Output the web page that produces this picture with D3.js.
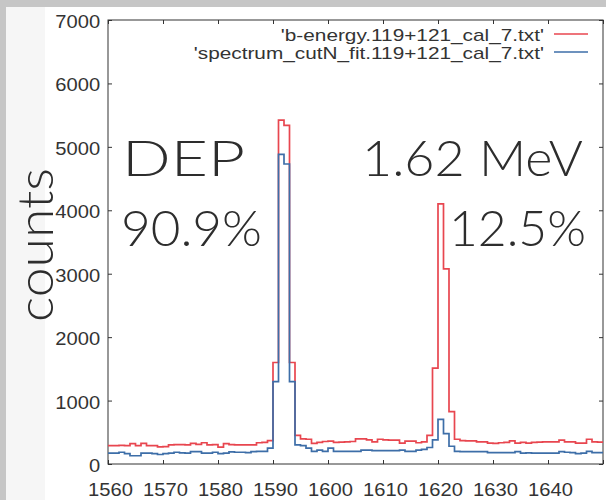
<!DOCTYPE html>
<html>
<head>
<meta charset="utf-8">
<script src="https://cdn.jsdelivr.net/npm/d3@7"></script>
<style>
  html, body { margin: 0; padding: 0; background: #c6c6c6; }
  svg { display: block; }
</style>
</head>
<body>
<svg id="chart" width="606" height="500"></svg>
<script>
// ---------- data ----------
const binEdges = [
  1560,1561,1562,1563,1564,1565,1566,1567,1568,1569,
  1570,1571,1572,1573,1574,1575,1576,1577,1578,1579,
  1580,1581,1582,1583,1584,1585,1586,1587,1588,1589,
  1590,1591,1592,1593,1594,1595,1596,1597,1598,1599,
  1600,1601,1602,1603,1604,1605,1606,1607,1608,1609,
  1610,1611,1612,1613,1614,1615,1616,1617,1618,1619,
  1620,1621,1622,1623,1624,1625,1626,1627,1628,1629,
  1630,1631,1632,1633,1634,1635,1636,1637,1638,1639,
  1640,1641,1642,1643,1644,1645,1646,1647,1648,1649,
  1650
];
const redCounts = [
  290, 290, 295, 290, 320, 290, 325, 290, 290, 270,
  275, 300, 305, 305, 300, 325, 310, 335, 300, 305,
  265, 320, 305, 300, 300, 300, 300, 335, 340, 370,
  1600, 5420, 5340, 1600, 450, 395, 390, 325, 340, 355,
  360, 340, 345, 350, 355, 395, 395, 380, 350, 390,
  380, 375, 375, 330, 360, 360, 335, 350, 450, 1510,
  4100, 3075, 825, 390, 370, 365, 365, 350, 350, 330,
  325, 335, 340, 365, 330, 340, 330, 340, 345, 350,
  350, 350, 375, 350, 350, 330, 330, 390, 350, 345
];
const blueCounts = [
  170, 170, 185, 165, 130, 130, 170, 170, 165, 150,
  165, 170, 185, 175, 170, 195, 195, 170, 170, 185,
  165, 170, 190, 185, 185, 180, 195, 200, 200, 250,
  1300, 4880, 4730, 1300, 300, 290, 250, 200, 220, 200,
  250, 200, 200, 200, 200, 200, 220, 220, 210, 210,
  210, 210, 210, 220, 200, 200, 220, 230, 260, 380,
  705, 480, 280, 200, 195, 195, 195, 195, 195, 180,
  180, 180, 180, 180, 195, 170, 175, 170, 170, 170,
  170, 170, 195, 185, 180, 165, 170, 200, 180, 180
];
const xTicks = [1560, 1570, 1580, 1590, 1600, 1610, 1620, 1630, 1640, 1650];
const xTickLabels = ["1560", "1570", "1580", "1590", "1600", "1610", "1620", "1630", "1640", ""];
const yTicks = [0, 1000, 2000, 3000, 4000, 5000, 6000, 7000];
const seriesNames = ["'b-energy.119+121_cal_7.txt'", "'spectrum_cutN_fit.119+121_cal_7.txt'"];
const seriesColors = ["#e8464f", "#3d6ea8"];
const yLabel = "counts";
const annotations = [
  { text: "DEP", col: "left", row: 0 },
  { text: "90.9%", col: "left", row: 1 },
  { text: "1.62 MeV", col: "right", row: 0 },
  { text: "12.5%", col: "right", row: 1 }
];

// ---------- layout ----------
const W = 606, H = 500;
const plot = { left: 108, right: 603, top: 20, bottom: 464 };
const svg = d3.select("#chart");

// background panels
svg.append("rect").attr("x", 0).attr("y", 0).attr("width", W).attr("height", H).attr("fill", "#c6c6c6");
svg.append("rect").attr("x", 6).attr("y", 7).attr("width", W - 6).attr("height", H - 7).attr("fill", "#ffffff");
svg.append("rect").attr("x", 6).attr("y", 7).attr("width", 39).attr("height", H - 7).attr("fill", "#f6f6f6");

const x = d3.scaleLinear().domain([1560, 1650]).range([plot.left, plot.right]);
const y = d3.scaleLinear().domain([0, 7000]).range([plot.bottom, plot.top]);

const tickFont = "'Liberation Sans', Arial, Helvetica, sans-serif";
const textColor = "#333333";

// axes (gnuplot style: inward ticks, mirrored)
const xb = d3.axisBottom(x).tickValues(xTicks).tickFormat((d, i) => xTickLabels[i])
  .tickSizeInner(-4).tickSizeOuter(0).tickPadding(19);
const xt = d3.axisTop(x).tickValues(xTicks).tickFormat("")
  .tickSizeInner(-4).tickSizeOuter(0);
const yl = d3.axisLeft(y).tickValues(yTicks).tickFormat(d3.format("d"))
  .tickSizeInner(-4).tickSizeOuter(0).tickPadding(7);
const yr = d3.axisRight(y).tickValues(yTicks).tickFormat("")
  .tickSizeInner(-4).tickSizeOuter(0);

function styleAxis(g) {
  g.select(".domain").remove();
  g.selectAll(".tick line").attr("stroke", "#333").attr("stroke-width", 1);
  g.selectAll(".tick text")
    .attr("fill", textColor)
    .style("font-family", tickFont)
    .style("font-size", "18px");
}

const gxb = svg.append("g").attr("transform", `translate(0,${plot.bottom})`).call(xb).call(styleAxis);
gxb.selectAll(".tick text").attr("transform", "translate(2,0) scale(1.12,1)");
svg.append("g").attr("transform", `translate(0,${plot.top})`).call(xt).call(styleAxis);
const gyl = svg.append("g").attr("transform", `translate(${plot.left},0)`).call(yl).call(styleAxis);
gyl.selectAll(".tick text").attr("dy", "0.42em").attr("transform", "scale(1.12,1)");
svg.append("g").attr("transform", `translate(${plot.right},0)`).call(yr).call(styleAxis);

// frame
svg.append("rect")
  .attr("x", plot.left).attr("y", plot.top)
  .attr("width", plot.right - plot.left).attr("height", plot.bottom - plot.top)
  .attr("fill", "none").attr("stroke", "#333").attr("stroke-width", 1);

// clip
svg.append("clipPath").attr("id", "clip").append("rect")
  .attr("x", plot.left).attr("y", plot.top)
  .attr("width", plot.right - plot.left).attr("height", plot.bottom - plot.top);

// histogram step lines
function stepPoints(counts) {
  const pts = counts.map((c, i) => [binEdges[i], c]);
  pts.push([binEdges[counts.length], counts[counts.length - 1]]);
  return pts;
}
const line = d3.line().x(d => x(d[0])).y(d => y(d[1])).curve(d3.curveStepAfter);
const lines = svg.append("g").attr("clip-path", "url(#clip)");
[redCounts, blueCounts].forEach((counts, i) => {
  lines.append("path")
    .attr("d", line(stepPoints(counts)))
    .attr("fill", "none")
    .attr("stroke", seriesColors[i])
    .attr("stroke-width", 1.7)
    .attr("stroke-linejoin", "miter");
});

// legend
const legendRows = [35, 53];
seriesNames.forEach((name, i) => {
  const g = svg.append("g").attr("transform", `translate(544,${legendRows[i] + 5.8}) scale(1.3,1)`);
  g.append("text")
    .attr("text-anchor", "end")
    .attr("fill", textColor)
    .style("font-family", tickFont)
    .style("font-size", "16px")
    .text(name);
  svg.append("line")
    .attr("x1", 554).attr("x2", 588)
    .attr("y1", legendRows[i] - 1).attr("y2", legendRows[i] - 1)
    .attr("stroke", seriesColors[i]).attr("stroke-width", 1.7);
});

// big annotations
const bigFont = "Lato, 'Open Sans', 'DejaVu Sans', sans-serif";
const annPos = {
  left:  [{ x: 122, w: 123 }, { x: 121, w: 141 }],
  right: [{ x: 362, w: 221 }, { x: 449, w: 137 }]
};
const rowBase = [176, 246];
annotations.forEach(a => {
  const p = annPos[a.col][a.row];
  svg.append("text")
    .attr("x", p.x).attr("y", rowBase[a.row])
    .attr("textLength", p.w).attr("lengthAdjust", "spacingAndGlyphs")
    .attr("fill", "#2d2d2d")
    .style("font-family", bigFont)
    .style("font-weight", 300)
    .style("font-size", "50px")
    .text(a.text);
});

// y label
svg.append("text")
  .attr("transform", "translate(53,322) rotate(-90)")
  .attr("x", 0).attr("y", 0)
  .attr("textLength", 154).attr("lengthAdjust", "spacingAndGlyphs")
  .attr("fill", "#2d2d2d")
  .style("font-family", bigFont)
  .style("font-weight", 300)
  .style("font-size", "50px")
  .text(yLabel);
</script>
</body>
</html>
